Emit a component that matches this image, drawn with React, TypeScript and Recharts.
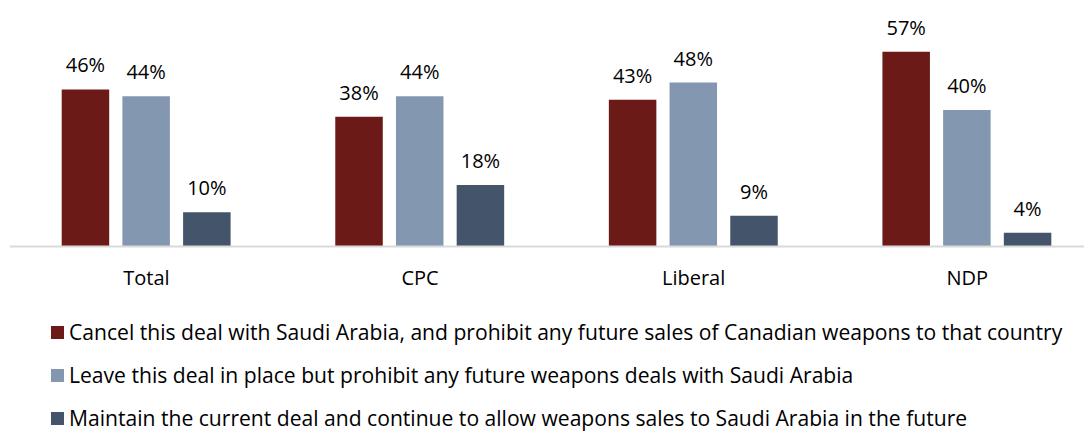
import React from "react";
import { BarChart, Bar, XAxis, YAxis, LabelList } from "recharts";

const categories = ["Total", "CPC", "Liberal", "NDP"];
const cancelDeal = [46, 38, 43, 57];
const leaveDeal = [44, 44, 48, 40];
const maintainDeal = [10, 18, 9, 4];
const seriesNames = [
  "Cancel this deal with Saudi Arabia, and prohibit any future sales of Canadian weapons to that country",
  "Leave this deal in place but prohibit any future weapons deals with Saudi Arabia",
  "Maintain the current deal and continue to allow weapons sales to Saudi Arabia in the future",
];
const colors = ["#6B1A17", "#8497B0", "#44546A"];

const data = categories.map((c, i) => ({
  name: c,
  cancel: cancelDeal[i],
  leave: leaveDeal[i],
  maintain: maintainDeal[i],
}));

const FONT = "'Open Sans', 'Noto Sans', sans-serif";
const pct = (v: any) => `${v}%`;

export default function App() {
  const keys = ["cancel", "leave", "maintain"];
  return (
    <div
      style={{
        position: "relative",
        width: 1084,
        height: 423,
        overflow: "hidden",
        fontFamily: FONT,
        background: "#fff",
      }}
    >
      <BarChart
        width={1096}
        height={300}
        data={data}
        margin={{ top: 6.3, right: 0, left: 1.7, bottom: 0 }}
        barGap={13.2}
        barSize={47.5}
      >
        <XAxis
          dataKey="name"
          height={61.5}
          tickSize={0}
          tickMargin={24.3}
          tickLine={false}
          axisLine={{ stroke: "#D9D9D9", strokeWidth: 2 }}
          tick={{ fill: "#000", fontSize: 20, fontFamily: FONT }}
          interval={0}
        />
        <YAxis hide domain={[0, 68]} />
        {keys.map((k, i) => (
          <Bar key={k} dataKey={k} fill={colors[i]} isAnimationActive={false}>
            <LabelList
              dataKey={k}
              position="top"
              offset={17}
              formatter={pct}
              style={{ fill: "#000", fontSize: 20, fontFamily: FONT }}
            />
          </Bar>
        ))}
      </BarChart>
      <div style={{ position: "absolute", left: 43, top: 302.5 }}>
        {seriesNames.map((n, i) => (
          <div
            key={n}
            style={{
              height: 43,
              display: "flex",
              alignItems: "center",
              fontSize: 21.1,
              lineHeight: "20px",
              color: "#000",
              whiteSpace: "nowrap",
            }}
          >
            <span
              style={{
                display: "inline-block",
                width: 13,
                height: 13,
                background: colors[i],
                marginRight: 5,
                flexShrink: 0,
              }}
            />
            <span>{n}</span>
          </div>
        ))}
      </div>
    </div>
  );
}
